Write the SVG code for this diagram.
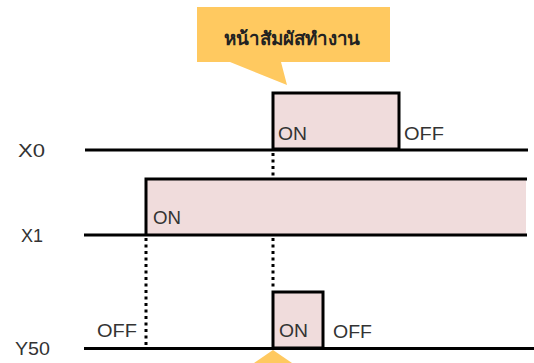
<svg xmlns="http://www.w3.org/2000/svg" width="534" height="363" viewBox="0 0 534 363">
<style>
.lbl{font-family:"Liberation Sans",Arial,sans-serif;font-size:17.5px;fill:#333}
.sig{stroke:#000;stroke-width:3;fill:none}
.pulse{fill:#F0DCDC;stroke:#000;stroke-width:3}
.dot{stroke:#000;stroke-width:3;stroke-dasharray:3 3.5;fill:none}
.call{fill:#FFC960}
</style>
<rect width="534" height="363" fill="#fff"/>
<g id="callout">
<path class="call" d="M197 7H390V62H281L287 85L230 62H197Z"/>
<text x="292" y="45" text-anchor="middle" textLength="136" lengthAdjust="spacingAndGlyphs" style="font-family:'Noto Sans','DejaVu Sans',sans-serif;font-size:18.5px;font-weight:bold;fill:#222">หน้าสัมผัสทำงาน</text>
</g>
<g id="X0">
<rect class="pulse" x="273" y="93" width="126" height="56"/>
<line class="sig" x1="85" y1="150" x2="528" y2="150"/>
<text class="lbl" x="18" y="157" textLength="27" lengthAdjust="spacingAndGlyphs">X0</text>
<text class="lbl" x="278" y="140" textLength="29" lengthAdjust="spacingAndGlyphs">ON</text>
<text class="lbl" x="404" y="140" textLength="40" lengthAdjust="spacingAndGlyphs">OFF</text>
</g>
<g id="X1">
<rect x="146" y="179" width="380" height="56" fill="#F0DCDC"/>
<path class="sig" d="M84 235H527M146 235V179H527"/>
<text class="lbl" x="21" y="242" textLength="22" lengthAdjust="spacingAndGlyphs">X1</text>
<text class="lbl" x="153" y="224" textLength="28" lengthAdjust="spacingAndGlyphs">ON</text>
</g>
<g id="Y50">
<rect class="pulse" x="273" y="292" width="50" height="56"/>
<line class="sig" x1="84" y1="348.5" x2="534" y2="348.5"/>
<text class="lbl" x="15" y="355" textLength="35" lengthAdjust="spacingAndGlyphs">Y50</text>
<text class="lbl" x="97" y="337" textLength="40" lengthAdjust="spacingAndGlyphs">OFF</text>
<text class="lbl" x="279" y="337" textLength="29" lengthAdjust="spacingAndGlyphs">ON</text>
<text class="lbl" x="333" y="338" textLength="39" lengthAdjust="spacingAndGlyphs">OFF</text>
<path class="call" d="M273 350L292 363H254Z"/>
</g>
<g id="connectors">
<line class="dot" x1="146" y1="238" x2="146" y2="346"/>
<line class="dot" x1="273" y1="153" x2="273" y2="178"/>
<line class="dot" x1="273" y1="238" x2="273" y2="290"/>
</g>
</svg>
